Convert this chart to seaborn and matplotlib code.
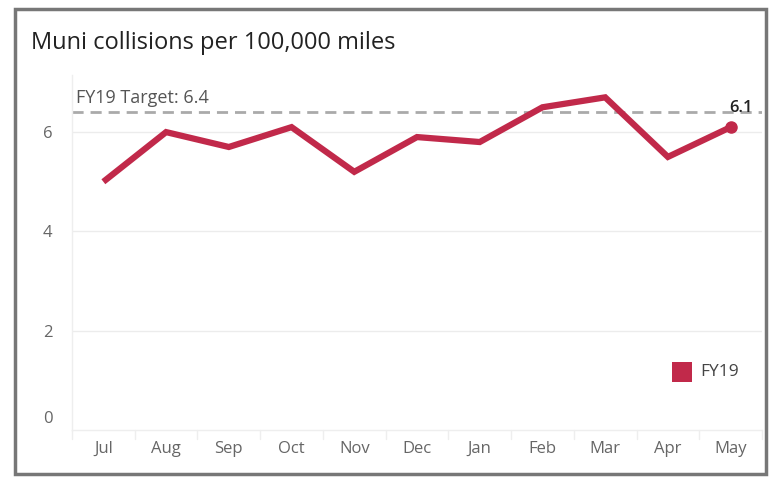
import matplotlib
matplotlib.use("Agg")
import matplotlib.pyplot as plt
import matplotlib.transforms as mtransforms
import seaborn as sns
import pandas as pd
from matplotlib.patches import Rectangle

months = ["Jul", "Aug", "Sep", "Oct", "Nov", "Dec", "Jan", "Feb", "Mar", "Apr", "May"]
fy19 = [5.0, 6.0, 5.7, 6.1, 5.2, 5.9, 5.8, 6.5, 6.7, 5.5, 6.1]
target = 6.4
yticks = [0, 2, 4, 6]

sns.set_theme(style="white")
plt.rcParams['font.family'] = ['Open Sans', 'DejaVu Sans']

line_color = "#C1294A"
df = pd.DataFrame({"month": months, "value": fy19, "x": range(len(months))})

fig = plt.figure(figsize=(7.7, 4.78), dpi=100)
ax = fig.add_axes([72/770, 1 - 430/478, (762-72)/770, (430-75)/478])

sns.lineplot(data=df, x="x", y="value", ax=ax, color=line_color, linewidth=4.5,
             solid_joinstyle="miter", solid_capstyle="butt", legend=False)
ax.plot([df["x"].iloc[-1]], [fy19[-1]], "o", color=line_color, markersize=8)

ax.set_xlim(-0.5, len(months) - 0.5)
ax.set_ylim(0, 7.15)
ax.set_yticks(yticks)
ax.set_yticklabels([str(t) for t in yticks])
ax.set_xticks(range(len(months)))
ax.set_xticklabels(months)
ax.set_xlabel("")
ax.set_ylabel("")
ax.tick_params(axis="both", length=0, colors="#666666", labelsize=12)
ax.tick_params(axis="x", pad=8)
ax.tick_params(axis="y", pad=14)
# lift the "0" label above the baseline
lbl0 = ax.get_yticklabels()[0]
lbl0.set_transform(lbl0.get_transform() + mtransforms.ScaledTranslation(0, 13/100, fig.dpi_scale_trans))
for t in yticks[1:]:
    ax.axhline(t, color="#ececec", linewidth=1, zorder=0)
for s in ["top", "right"]:
    ax.spines[s].set_visible(False)
ax.spines["left"].set_color("#eeeeee")
ax.spines["bottom"].set_color("#eeeeee")
ax.spines["left"].set_linewidth(1)
ax.spines["bottom"].set_linewidth(1)
# category boundary ticks
for b in range(len(months) + 1):
    ax.plot([b - 0.5, b - 0.5], [0, -0.18], color="#eeeeee", linewidth=1, clip_on=False)

ax.axhline(target, color="#aaaaaa", linewidth=2, linestyle=(0, (4, 2.5)), zorder=1)
ax.text(-0.44, target + 0.1, f"FY19 Target: {target}", color="#555555", fontsize=13,
        va="bottom", ha="left")
ax.text(len(months) - 1 + 0.17, fy19[-1] + 0.22, f"{fy19[-1]}", color="#222222",
        fontsize=12, fontweight="semibold", ha="center", va="bottom")

# legend
fig.patches.append(Rectangle((672/770, 1 - 382/478), 20/770, 20/478, transform=fig.transFigure,
                             facecolor=line_color, edgecolor="none"))
fig.text(700/770, 1 - 372/478, "FY19", color="#444444", fontsize=12.5, va="center", ha="left")

fig.text(31/770, 1 - 43/478, "Muni collisions per 100,000 miles", color="#222222",
         fontsize=17, va="center", ha="left")

fig.patches.append(Rectangle((15/770, 1 - 474/478), (766-15)/770, (474-9)/478,
                             transform=fig.transFigure, facecolor="none",
                             edgecolor="#777777", linewidth=2.5))

fig.savefig("out.png", dpi=100, facecolor="white")
